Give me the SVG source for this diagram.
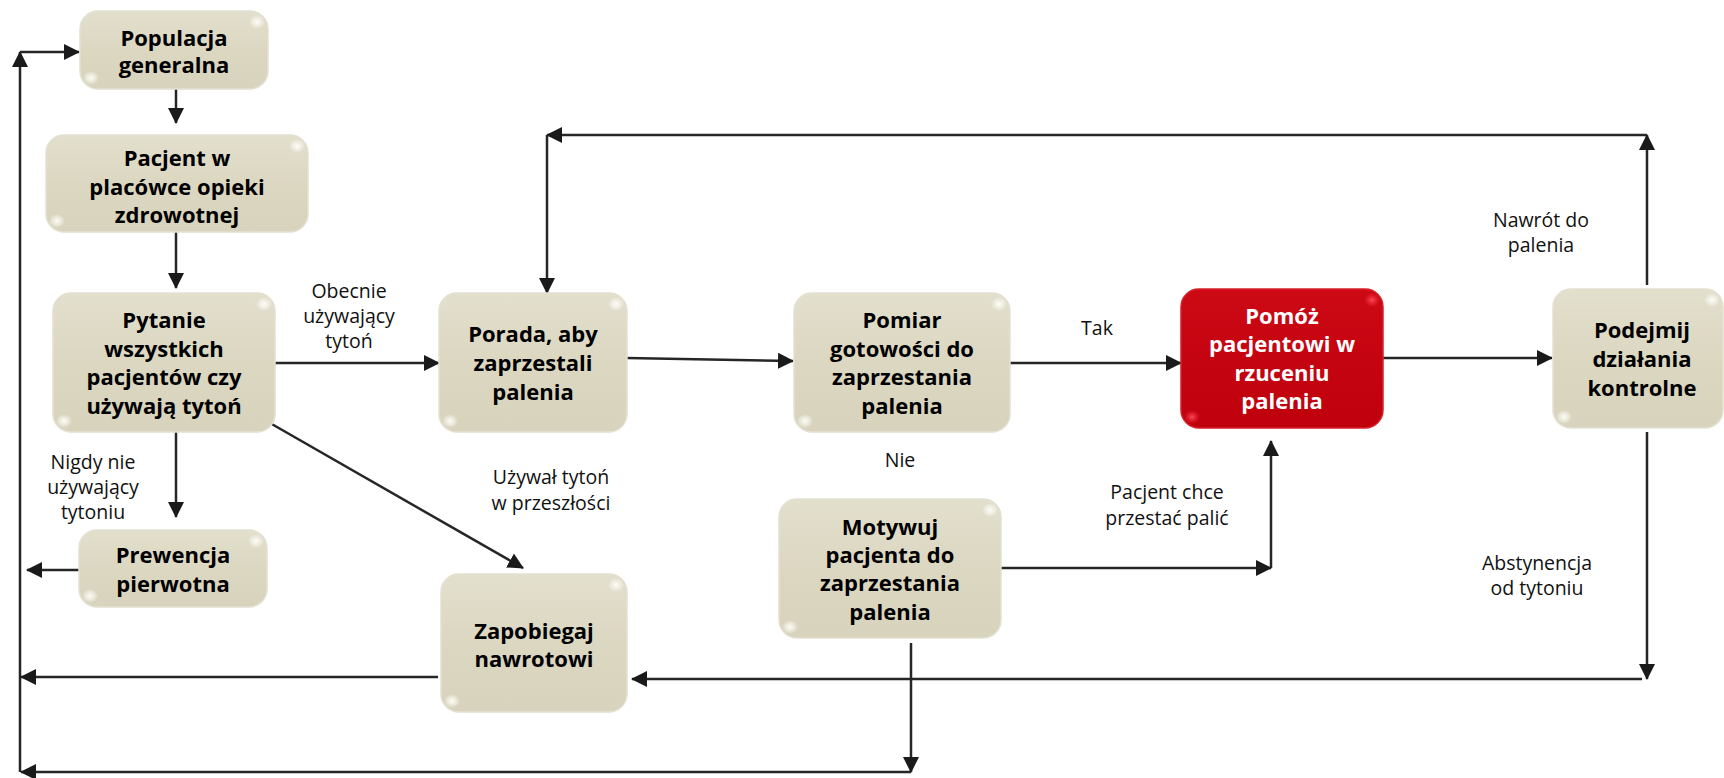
<svg xmlns="http://www.w3.org/2000/svg" width="1724" height="778" viewBox="0 0 1724 778">
<defs>
<style>
.box{fill:url(#beige);stroke:#e4e1d2;stroke-width:1.5}
.rbox{fill:url(#red);stroke:#d8202b;stroke-width:1.5}
.t{font-family:"Open Sans","Noto Sans",sans-serif;font-weight:bold;font-size:22px;fill:#000;text-anchor:middle}
.tw{font-family:"Open Sans","Noto Sans",sans-serif;font-weight:bold;font-size:22px;fill:#fff;text-anchor:middle}
.l{font-family:"Open Sans","Noto Sans",sans-serif;font-size:19.5px;fill:#111;text-anchor:middle}
.ca{fill:none;stroke:#262626;stroke-width:2.5;marker-end:url(#ah)}
.g{fill:url(#glint)}
.gr{fill:url(#glintr)}
</style>
<linearGradient id="beige" x1="0" y1="0" x2="0" y2="1">
<stop offset="0" stop-color="#e2dfcd"/>
<stop offset="0.5" stop-color="#dbd7c1"/>
<stop offset="1" stop-color="#d7d3bc"/>
</linearGradient>
<linearGradient id="red" x1="0" y1="0" x2="0" y2="1">
<stop offset="0" stop-color="#cc0915"/>
<stop offset="1" stop-color="#bf000d"/>
</linearGradient>
<radialGradient id="glint">
<stop offset="0" stop-color="#ffffff" stop-opacity="0.95"/>
<stop offset="0.5" stop-color="#fbfaf0" stop-opacity="0.6"/>
<stop offset="1" stop-color="#ffffff" stop-opacity="0"/>
</radialGradient>
<radialGradient id="glintr">
<stop offset="0" stop-color="#ff5060" stop-opacity="0.9"/>
<stop offset="1" stop-color="#ff3040" stop-opacity="0"/>
</radialGradient>
<marker id="ah" markerUnits="userSpaceOnUse" markerWidth="16" markerHeight="16" refX="15" refY="8" orient="auto">
<path d="M0,0 L16,8 L0,16 z" fill="#1a1a1a"/>
</marker>
</defs>
<rect width="1724" height="778" fill="#ffffff"/>

<g id="connectors">
<path class="ca" d="M176,89 V123"/>
<path class="ca" d="M176,232 V288"/>
<path class="ca" d="M176,432 V517"/>
<path class="ca" d="M79,570 H27"/>
<path class="ca" d="M20,772 V52"/>
<path class="ca" d="M20,52 H79"/>
<path class="ca" d="M275,363 H439"/>
<path class="ca" d="M270,423 L523,568"/>
<path class="ca" d="M627,358 L793,361"/>
<path class="ca" d="M1010,363 H1181"/>
<path class="ca" d="M1383,358 H1552"/>
<path class="ca" d="M1647,285 V135"/>
<path class="ca" d="M1647,135 H547"/>
<path class="ca" d="M547,135 V293"/>
<path class="ca" d="M1647,432 V679"/>
<path class="ca" d="M1642,679 H632"/>
<path class="ca" d="M438,677 H21"/>
<path class="ca" d="M1001,568 H1271"/>
<path class="ca" d="M1271,568 V441"/>
<path class="ca" d="M911,643 V772"/>
<path class="ca" d="M911,772 H21"/>
</g>

<g id="labels">
<text class="l" x="349"><tspan x="349" y="298">Obecnie</tspan><tspan x="349" y="323">używający</tspan><tspan x="349" y="348">tytoń</tspan></text>
<text class="l" x="93"><tspan x="93" y="469">Nigdy nie</tspan><tspan x="93" y="494">używający</tspan><tspan x="93" y="519">tytoniu</tspan></text>
<text class="l" x="551"><tspan x="551" y="484">Używał tytoń</tspan><tspan x="551" y="510">w przeszłości</tspan></text>
<text class="l" x="1097" y="335">Tak</text>
<text class="l" x="900" y="467">Nie</text>
<text class="l" x="1167"><tspan x="1167" y="499">Pacjent chce</tspan><tspan x="1167" y="525">przestać palić</tspan></text>
<text class="l" x="1541"><tspan x="1541" y="227">Nawrót do</tspan><tspan x="1541" y="252">palenia</tspan></text>
<text class="l" x="1537"><tspan x="1537" y="570">Abstynencja</tspan><tspan x="1537" y="595">od tytoniu</tspan></text>
</g>

<g id="n-populacja">
<rect class="box" x="80" y="11" width="188" height="78" rx="18"/>
<ellipse class="g" cx="257" cy="22" rx="8" ry="7"/><ellipse class="g" cx="91" cy="78" rx="8" ry="7"/>
<text class="t"><tspan x="174" y="46">Populacja</tspan><tspan x="174" y="73">generalna</tspan></text>
</g>

<g id="n-pacjent">
<rect class="box" x="46" y="135" width="262" height="97" rx="18"/>
<ellipse class="g" cx="297" cy="146" rx="8" ry="7"/><ellipse class="g" cx="57" cy="221" rx="8" ry="7"/>
<text class="t"><tspan x="177" y="166">Pacjent w</tspan><tspan x="177" y="195">placówce opieki</tspan><tspan x="177" y="223">zdrowotnej</tspan></text>
</g>

<g id="n-pytanie">
<rect class="box" x="53" y="293" width="222" height="139" rx="18"/>
<ellipse class="g" cx="264" cy="304" rx="8" ry="7"/><ellipse class="g" cx="64" cy="421" rx="8" ry="7"/>
<text class="t"><tspan x="164" y="328">Pytanie</tspan><tspan x="164" y="357">wszystkich</tspan><tspan x="164" y="385">pacjentów czy</tspan><tspan x="164" y="414">używają tytoń</tspan></text>
</g>

<g id="n-prewencja">
<rect class="box" x="79" y="530" width="188" height="77" rx="18"/>
<ellipse class="g" cx="256" cy="541" rx="8" ry="7"/><ellipse class="g" cx="90" cy="596" rx="8" ry="7"/>
<text class="t"><tspan x="173" y="563">Prewencja</tspan><tspan x="173" y="592">pierwotna</tspan></text>
</g>

<g id="n-porada">
<rect class="box" x="439" y="293" width="188" height="139" rx="18"/>
<ellipse class="g" cx="616" cy="304" rx="8" ry="7"/><ellipse class="g" cx="450" cy="421" rx="8" ry="7"/>
<text class="t"><tspan x="533" y="342">Porada, aby</tspan><tspan x="533" y="371">zaprzestali</tspan><tspan x="533" y="400">palenia</tspan></text>
</g>

<g id="n-zapobiegaj">
<rect class="box" x="441" y="574" width="186" height="138" rx="18"/>
<ellipse class="g" cx="616" cy="585" rx="8" ry="7"/><ellipse class="g" cx="452" cy="701" rx="8" ry="7"/>
<text class="t"><tspan x="534" y="639">Zapobiegaj</tspan><tspan x="534" y="667">nawrotowi</tspan></text>
</g>

<g id="n-pomiar">
<rect class="box" x="794" y="293" width="216" height="139" rx="18"/>
<ellipse class="g" cx="999" cy="304" rx="8" ry="7"/><ellipse class="g" cx="805" cy="421" rx="8" ry="7"/>
<text class="t"><tspan x="902" y="328">Pomiar</tspan><tspan x="902" y="357">gotowości do</tspan><tspan x="902" y="385">zaprzestania</tspan><tspan x="902" y="414">palenia</tspan></text>
</g>

<g id="n-motywuj">
<rect class="box" x="779" y="499" width="222" height="139" rx="18"/>
<ellipse class="g" cx="990" cy="510" rx="8" ry="7"/><ellipse class="g" cx="790" cy="627" rx="8" ry="7"/>
<text class="t"><tspan x="890" y="535">Motywuj</tspan><tspan x="890" y="563">pacjenta do</tspan><tspan x="890" y="591">zaprzestania</tspan><tspan x="890" y="620">palenia</tspan></text>
</g>

<g id="n-pomoz">
<rect class="rbox" x="1181" y="289" width="202" height="139" rx="18"/>
<ellipse class="gr" cx="1372" cy="300" rx="8" ry="7"/><ellipse class="gr" cx="1192" cy="417" rx="8" ry="7"/>
<text class="tw"><tspan x="1282" y="324">Pomóż</tspan><tspan x="1282" y="352">pacjentowi w</tspan><tspan x="1282" y="381">rzuceniu</tspan><tspan x="1282" y="409">palenia</tspan></text>
</g>

<g id="n-podejmij">
<rect class="box" x="1553" y="289" width="170" height="139" rx="18"/>
<ellipse class="g" cx="1712" cy="300" rx="8" ry="7"/><ellipse class="g" cx="1564" cy="417" rx="8" ry="7"/>
<text class="t"><tspan x="1642" y="338">Podejmij</tspan><tspan x="1642" y="367">działania</tspan><tspan x="1642" y="396">kontrolne</tspan></text>
</g>
</svg>
